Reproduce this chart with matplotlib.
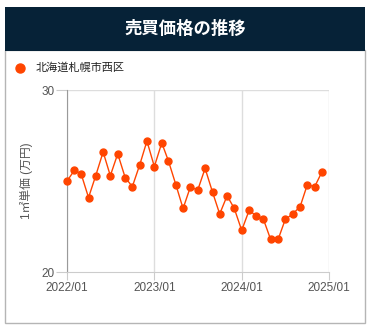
import matplotlib
matplotlib.use("Agg")
import matplotlib.pyplot as plt
import pandas as pd
from matplotlib.patches import Rectangle

plt.rcParams['font.family'] = ['Liberation Sans', 'Noto Sans CJK JP', 'DejaVu Sans']

# monthly unit price (10k yen / m2), 2022/01 - 2024/12
months = pd.date_range("2022-01-01", periods=36, freq="MS")
prices = [25.0, 25.6, 25.4, 24.1, 25.3, 26.6, 25.3, 26.5, 25.2, 24.7, 25.9, 27.2,
          25.8, 27.1, 26.1, 24.8, 23.5, 24.7, 24.5, 25.7, 24.4, 23.2, 24.2, 23.5,
          22.3, 23.4, 23.1, 22.9, 21.8, 21.8, 22.9, 23.2, 23.6, 24.8, 24.7, 25.5]
series_name = "北海道札幌市西区"
title = "売買価格の推移"
ylabel = "1㎡単価 (万円)"
xticks = ["2022-01-01", "2023-01-01", "2024-01-01", "2025-01-01"]
xtick_labels = ["2022/01", "2023/01", "2024/01", "2025/01"]
yticks = [20, 30]

orange = "#ff4500"
navy = "#062237"

fig = plt.figure(figsize=(3.7, 3.28), dpi=100)

# outer box + header band
fig.patches.append(Rectangle((5 / 370, 1 - 323 / 328), 360 / 370, 273 / 328,
                             transform=fig.transFigure, facecolor="white",
                             edgecolor="#b5b5b5", linewidth=1.0, zorder=-2))
fig.patches.append(Rectangle((5 / 370, 1 - 51 / 328), 360 / 370, 44 / 328,
                             transform=fig.transFigure, facecolor=navy,
                             edgecolor="none", zorder=-1))
fig.text(0.5, 1 - 29 / 328, title, color="white", fontsize=12.5,
         fontweight="bold", ha="center", va="center",
         family=['Noto Sans CJK JP', 'DejaVu Sans'])

# legend
fig.lines.append(plt.Line2D([20 / 370], [1 - 67.5 / 328], marker="o",
                            markersize=6.5, color=orange, linestyle="none",
                            transform=fig.transFigure))
fig.text(36 / 370, 1 - 67.5 / 328, series_name, fontsize=8, color="#222222",
         va="center", ha="left", family=['Noto Sans CJK JP', 'DejaVu Sans'])

ax = fig.add_axes([67 / 370, 1 - 272.3 / 328, 262.3 / 370, 182.3 / 328])
ax.set_zorder(5)
ax.patch.set_alpha(0)
ax.plot(months, prices, color=orange, linewidth=1.0, marker="o",
        markersize=5, zorder=3, clip_on=False)

ax.set_xlim(pd.Timestamp("2022-01-01"), pd.Timestamp("2025-01-01"))
ax.set_ylim(20, 30)
ax.set_xticks([pd.Timestamp(t) for t in xticks])
ax.set_xticklabels(xtick_labels)
ax.set_yticks(yticks)

ax.grid(axis="x", color="#dddddd", linewidth=1.0)
ax.axhline(30, color="#dddddd", linewidth=1.0, zorder=1)
for s in ["top", "right"]:
    ax.spines[s].set_visible(False)
ax.spines["left"].set_color("#9a9a9a")
ax.spines["bottom"].set_color("#cccccc")
ax.tick_params(axis="y", length=8, color="#cccccc", labelcolor="#555555",
               labelsize=8.5, pad=1)
ax.tick_params(axis="x", length=6, color="#cccccc", labelcolor="#555555",
               labelsize=8.5, pad=1)

ax.set_ylabel(ylabel, fontsize=8.5, color="#555555", labelpad=6,
              family=['Liberation Sans', 'Noto Sans CJK JP', 'DejaVu Sans'])

fig.savefig("out.png", dpi=100)
